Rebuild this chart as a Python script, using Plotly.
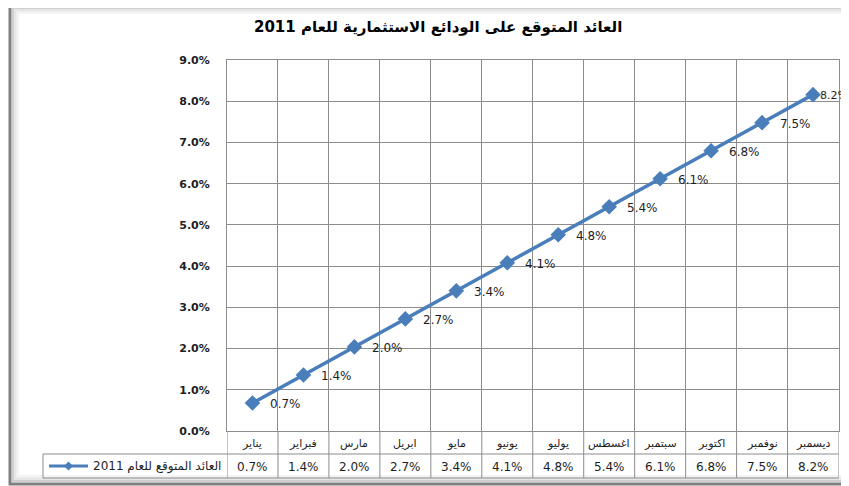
import plotly.graph_objects as go

# ---- data ----
title_text = "العائد المتوقع على الودائع الاستثمارية للعام 2011"
series_name = "العائد المتوقع للعام 2011"
months = ["يناير", "فبراير", "مارس", "ابريل", "مايو", "يونيو",
          "يوليو", "اغسطس", "سبتمبر", "اكتوبر", "نوفمبر", "ديسمبر"]
values = [0.68, 1.36, 2.04, 2.72, 3.40, 4.08, 4.76, 5.44, 6.12, 6.80, 7.48, 8.16]
y_ticks = [0, 1, 2, 3, 4, 5, 6, 7, 8, 9]

# ---- layout helpers (page pixel -> figure fraction; page body has 8px margin) ----
OFF = 8
W, H = 849 - OFF, 486 - OFF
def fx(px):
    return (px - OFF) / W
def fy(py):
    return 1 - (py - OFF) / H

BLUE = "#4A7EBB"
GRID = "#8C8C8C"
TXT = "#1E1E1E"
FONT = "DejaVu Sans"

fig = go.Figure()
fig.add_trace(go.Scatter(
    x=months, y=values, mode="lines+markers", name=series_name,
    line=dict(color=BLUE, width=3.5),
    marker=dict(symbol="diamond", size=12, color=BLUE),
    showlegend=False, cliponaxis=False,
))

annotations = []
# data labels (last one is nudged closer, as in the original near the frame edge)
for i, (m, v) in enumerate(zip(months, values)):
    last = i == len(months) - 1
    annotations.append(dict(x=m, y=v, xref="x", yref="y", text=f"{v:.1f}%",
                            showarrow=False, xanchor="left", yanchor="middle",
                            xshift=5 if last else 16, yshift=-1,
                            font=dict(family=FONT, size=11 if last else 12, color=TXT)))
# data table
for m, v in zip(months, values):
    annotations.append(dict(x=m, y=fy(443), xref="x", yref="paper", text=m,
                            showarrow=False, xanchor="center", yanchor="middle",
                            font=dict(family=FONT, size=11, color=TXT)))
    annotations.append(dict(x=m, y=fy(466.5), xref="x", yref="paper", text=f"{v:.1f}%",
                            showarrow=False, xanchor="center", yanchor="middle",
                            font=dict(family=FONT, size=12, color=TXT)))
# legend key text
annotations.append(dict(x=fx(91), y=fy(466.5), xref="paper", yref="paper", text=series_name,
                        showarrow=False, xanchor="left", yanchor="middle",
                        font=dict(family=FONT, size=12, color=TXT)))
# title
annotations.append(dict(x=fx(438), y=fy(27), xref="paper", yref="paper", text=title_text,
                        showarrow=False, xanchor="center", yanchor="middle",
                        font=dict(family=FONT, size=15, color="#000000", weight="bold")))

shapes = []
# chart frame with soft inner shadow
for off, col, w in [(7, "#F4F4F4", 4), (5, "#E6E6E6", 3), (3, "#CFCFCF", 2), (0, "#7F7F7F", 3)]:
    shapes.append(dict(type="rect", xref="paper", yref="paper",
                       x0=fx(10 + off), x1=fx(855), y0=fy(5 + off), y1=fy(484 - off),
                       line=dict(color=col, width=w), layer="below"))
# table grid lines
for i in range(len(months) + 1):
    shapes.append(dict(type="line", xref="x", yref="paper", x0=i - 0.5, x1=i - 0.5,
                       y0=fy(431), y1=fy(478), line=dict(color=GRID, width=1)))
for py in (454, 478):
    shapes.append(dict(type="line", xref="paper", yref="paper", x0=fx(43), x1=fx(838.5),
                       y0=fy(py), y1=fy(py), line=dict(color=GRID, width=1)))
shapes.append(dict(type="line", xref="paper", yref="paper", x0=fx(43), x1=fx(43),
                   y0=fy(454), y1=fy(478), line=dict(color=GRID, width=1)))
# legend key: line + diamond
shapes.append(dict(type="line", xref="paper", yref="paper", x0=fx(49), x1=fx(88),
                   y0=fy(466), y1=fy(466), line=dict(color=BLUE, width=3)))
cx, cy, r = 68.5, 466, 4.5
shapes.append(dict(type="path", xref="paper", yref="paper",
                   path=f"M {fx(cx - r)} {fy(cy)} L {fx(cx)} {fy(cy - r)} L {fx(cx + r)} {fy(cy)} L {fx(cx)} {fy(cy + r)} Z",
                   fillcolor=BLUE, line=dict(color=BLUE, width=0)))

fig.update_layout(
    width=W, height=H,
    margin=dict(l=0, r=0, t=0, b=0, pad=0, autoexpand=False),
    paper_bgcolor="white", plot_bgcolor="white",
    font=dict(family=FONT, color=TXT),
    showlegend=False,
    xaxis=dict(domain=[fx(227), fx(838.5)], type="category", tickson="boundaries",
               range=[-0.5, len(months) - 0.5], autorange=False,
               showgrid=True, gridcolor=GRID, gridwidth=1, showticklabels=False,
               ticks="", showline=True, linecolor=GRID, linewidth=1, mirror=True,
               zeroline=False, fixedrange=True, automargin=False),
    yaxis=dict(domain=[fy(431), fy(60)], range=[0, 9], tickvals=y_ticks,
               ticktext=[f"{t:.1f}%" for t in y_ticks],
               showgrid=True, gridcolor=GRID, gridwidth=1,
               showline=True, linecolor=GRID, linewidth=1, mirror=True,
               ticks="outside", ticklen=14, tickcolor="rgba(0,0,0,0)",
               tickfont=dict(family=FONT, size=11, color=TXT, weight="bold"),
               zeroline=False, fixedrange=True, automargin=False),
    annotations=annotations,
    shapes=shapes,
)

fig.write_html("out.html")
